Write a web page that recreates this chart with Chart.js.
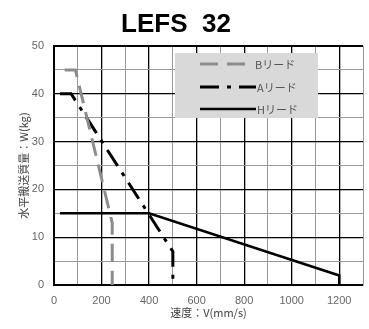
<!DOCTYPE html>
<html>
<head>
<meta charset="utf-8">
<script src="https://cdn.jsdelivr.net/npm/chart.js@4/dist/chart.umd.min.js"></script>
<style>
    html, body { margin: 0; padding: 0; background: #fff; overflow: hidden; }
    #wrap { width: 372px; height: 329px; }
</style>
</head>
<body>
<div id="wrap"><canvas id="loadChart" width="372" height="329"></canvas></div>
<script>
// B lead (gray dashed)
const bSpeed = [45, 90, 245, 245];
const bLoad = [45, 45, 13, 0];
// A lead (black dash-dot)
const aSpeed = [25, 72, 500, 500];
const aLoad = [40, 40, 7, 0];
// H lead (solid)
const hSpeed = [25, 400, 1200, 1200];
const hLoad = [15, 15, 2, 0];

const seriesNames = ["Bリード", "Aリード", "Hリード"];
const chartTitle = "LEFS  32";
const xTitle = "速度：V(mm/s)";
const yTitle = "水平搬送質量：W(kg)";

const tickFont = { family: "Liberation Sans", size: 11 };
const jpFont = "'Noto Sans CJK JP', sans-serif";

function toPoints(xs, ys) {
    return xs.map((x, i) => ({ x: x, y: ys[i] }));
}

// title and legend box drawn by hand
const extras = {
    id: "extras",
    afterDatasetsDraw(chart) {
        const ctx = chart.ctx;
        ctx.save();
        // legend box
        ctx.fillStyle = "#d9d9d9";
        ctx.fillRect(175, 53, 143, 65);
        const rows = [64, 87, 109];
        chart.data.datasets.forEach((ds, i) => {
            ctx.beginPath();
            ctx.strokeStyle = ds.borderColor;
            ctx.lineWidth = ds.borderWidth;
            ctx.setLineDash(ds.borderDash || []);
            ctx.moveTo(200, rows[i]);
            ctx.lineTo(i == 0 ? 252 : 256, rows[i]);
            ctx.stroke();
            ctx.setLineDash([]);
            ctx.fillStyle = "#555";
            ctx.font = "11px " + jpFont;
            ctx.textBaseline = "middle";
            ctx.textAlign = "left";
            ctx.fillText(seriesNames[i], i == 0 ? 255 : 257, rows[i] + 1);
        });
        // title
        ctx.fillStyle = "#000";
        ctx.font = "bold 26px 'Liberation Sans'";
        ctx.textAlign = "center";
        ctx.textBaseline = "alphabetic";
        ctx.fillText(chartTitle, 176, 32);
        ctx.restore();
    }
};

new Chart(document.getElementById("loadChart"), {
    type: "line",
    data: {
        datasets: [
            {
                label: seriesNames[0],
                data: toPoints(bSpeed, bLoad),
                borderColor: "#8c8c8c",
                borderWidth: 3,
                borderDash: [18, 9],
                pointRadius: 0
            },
            {
                label: seriesNames[1],
                data: toPoints(aSpeed, aLoad),
                borderColor: "#000",
                borderWidth: 3,
                borderDash: [19, 8, 4, 8],
                pointRadius: 0
            },
            {
                label: seriesNames[2],
                data: toPoints(hSpeed, hLoad),
                borderColor: "#000",
                borderWidth: 2.5,
                pointRadius: 0
            }
        ]
    },
    options: {
        responsive: false,
        animation: false,
        layout: { padding: { top: 46, right: 2.5, left: 0, bottom: 0 } },
        plugins: {
            legend: { display: false },
            tooltip: { enabled: false }
        },
        scales: {
            x: {
                type: "linear",
                min: 0,
                max: 1300,
                afterFit: s => { s.height = 44; },
                border: { color: "#000", width: 2 },
                grid: {
                    drawTicks: false,
                    color: c => (c.tick.value % 200 === 0 ? "#000" : "#999"),
                    lineWidth: c => (c.tick.value % 200 === 0 ? 1.3 : 1)
                },
                ticks: {
                    stepSize: 100,
                    maxRotation: 0,
                    autoSkip: false,
                    padding: 9,
                    color: "#666",
                    font: tickFont,
                    callback: v => (v % 200 === 0 && v < 1300 ? String(v) : "")
                },
                title: {
                    display: true,
                    text: xTitle,
                    color: "#444",
                    font: { family: jpFont, size: 11 },
                    padding: { top: 0, bottom: 10 }
                }
            },
            y: {
                min: 0,
                max: 50,
                afterFit: s => { s.width = 54; },
                border: { color: "#000", width: 2 },
                grid: {
                    drawTicks: false,
                    color: c => (c.tick.value % 10 === 0 ? "#000" : "#999"),
                    lineWidth: c => (c.tick.value === 50 ? 2 : c.tick.value % 10 === 0 ? 1.3 : 1)
                },
                ticks: {
                    stepSize: 5,
                    padding: 10,
                    color: "#666",
                    font: tickFont,
                    callback: v => (v % 10 === 0 ? String(v) : "")
                },
                title: {
                    display: true,
                    text: yTitle,
                    color: "#444",
                    font: { family: jpFont, size: 11 },
                    padding: { top: 17, bottom: 0 }
                }
            }
        }
    },
    plugins: [extras]
});
</script>
</body>
</html>
